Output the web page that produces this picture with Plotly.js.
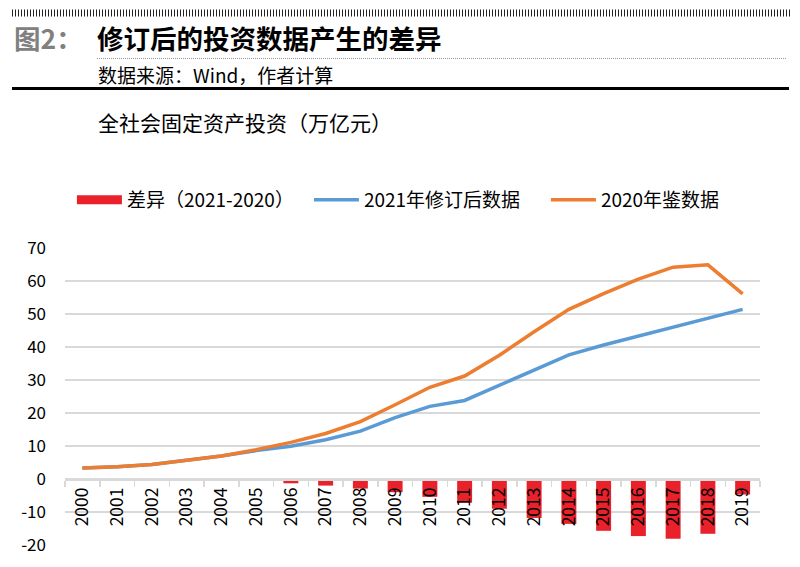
<!DOCTYPE html>
<html>
<head>
<meta charset="utf-8">
<script src="https://cdn.plot.ly/plotly-3.0.1.min.js"></script>
<style>
  html, body { margin: 0; padding: 0; background: #fff; }
  #chart { width: 800px; height: 567px; }
</style>
</head>
<body>
<div id="chart"></div>
<script>
// ---- data ----
const years = ['2000','2001','2002','2003','2004','2005','2006','2007','2008','2009',
               '2010','2011','2012','2013','2014','2015','2016','2017','2018','2019'];
const revised2021 = [3.3, 3.7, 4.4, 5.6, 7.0, 8.6, 9.9, 11.9, 14.5, 18.6,
                     22.0, 23.8, 28.4, 33.0, 37.6, 40.6, 43.3, 46.2, 48.9, 51.4];
const yearbook2020 = [3.3, 3.7, 4.4, 5.6, 7.0, 8.9, 11.1, 13.8, 17.4, 22.5,
                      27.8, 31.2, 37.5, 44.6, 51.4, 56.2, 60.6, 64.2, 64.9, 56.1];
const diff = [0, 0, 0, 0, 0, -0.3, -1.3, -2.0, -2.9, -4.0,
              -5.4, -7.2, -9.0, -11.8, -13.6, -15.7, -17.3, -18.1, -16.6, -4.7];

const nameDiff = '差异（2021-2020）';
const nameRev = '2021年修订后数据';
const nameOld = '2020年鉴数据';
const figTitleNo = '图2：';
const figTitle = '修订后的投资数据产生的差异';
const sourceText = '数据来源：Wind，作者计算';
const subTitle = '全社会固定资产投资（万亿元）';
const yTicks = [-20, -10, 0, 10, 20, 30, 40, 50, 60, 70];

// ---- layout geometry helpers (page pixels -> paper fractions) ----
const W = 800, H = 567;
const M = { l: 65, r: 40, t: 248, b: 22 };
const PW = W - M.l - M.r, PH = H - M.t - M.b;
const px = v => (v - M.l) / PW;
const py = v => (H - M.b - v) / PH;

const FONT = '"Noto Sans CJK SC", "Noto Sans", sans-serif';
const RED = '#e8212a', BLUE = '#5b9bd5', ORANGE = '#ed7d31', GRID = '#d9d9d9';

const traces = [
  { type: 'bar', x: years, y: diff, name: nameDiff, marker: { color: RED },
    width: 0.43, showlegend: false, legendgroup: 'd', hoverinfo: 'x+y' },
  { type: 'scatter', mode: 'lines', x: [null], y: [null], name: nameDiff,
    legendgroup: 'd', line: { color: RED, width: 9 }, hoverinfo: 'skip' },
  { type: 'scatter', mode: 'lines', x: years, y: revised2021, name: nameRev,
    line: { color: BLUE, width: 3.5 } },
  { type: 'scatter', mode: 'lines', x: years, y: yearbook2020, name: nameOld,
    line: { color: ORANGE, width: 3.5 } }
];

const layout = {
  width: W, height: H,
  margin: M,
  paper_bgcolor: '#fff', plot_bgcolor: '#fff',
  font: { family: FONT, color: '#000', size: 17 },
  showlegend: true,
  legend: {
    orientation: 'h', xref: 'paper', yref: 'paper',
    x: -0.0001, y: py(200), xanchor: 'left', yanchor: 'middle',
    indentation: 7,
    font: { size: 19, family: FONT, color: '#000' },
    itemwidth: 45, entrywidth: 170, entrywidthmode: 'pixels',
    bgcolor: 'rgba(0,0,0,0)', traceorder: 'normal'
  },
  xaxis: {
    type: 'category', range: [-0.5, 19.5], anchor: 'free', position: 20 / 90,
    showline: true, linecolor: GRID, linewidth: 1.5,
    ticks: 'outside', tickson: 'boundaries', ticklen: 6, tickwidth: 1.5, tickcolor: GRID,
    tickangle: -90, tickfont: { size: 17.5, family: FONT, color: '#000' },
    showgrid: false, zeroline: false, fixedrange: true
  },
  yaxis: {
    range: [-20, 70], tickvals: yTicks, ticktext: yTicks.map(String),
    showgrid: true, gridcolor: GRID, gridwidth: 1.5,
    zeroline: false, showline: false, ticks: '',
    ticklabelstandoff: 18,
    tickfont: { size: 17, family: FONT, color: '#000' }, fixedrange: true
  },
  shapes: [
    { type: 'line', xref: 'paper', yref: 'paper', x0: px(12), x1: px(790), y0: py(13), y1: py(13),
      line: { color: '#222', width: 7, dash: '1px,2px' } },
    { type: 'line', xref: 'paper', yref: 'paper', x0: px(97), x1: px(787), y0: py(58.5), y1: py(58.5),
      line: { color: '#999', width: 1, dash: '1px,1px' } },
    { type: 'line', xref: 'paper', yref: 'paper', x0: px(12), x1: px(789), y0: py(88.5), y1: py(88.5),
      line: { color: '#000', width: 3 } }
  ],
  annotations: [
    { xref: 'paper', yref: 'paper', x: px(12), y: py(37), xanchor: 'left', yanchor: 'middle',
      text: '<b>' + figTitleNo + '</b>', showarrow: false,
      font: { size: 26.5, family: FONT, color: '#808080' } },
    { xref: 'paper', yref: 'paper', x: px(95), y: py(37), xanchor: 'left', yanchor: 'middle',
      text: '<b>' + figTitle + '</b>', showarrow: false,
      font: { size: 26.5, family: FONT, color: '#000' } },
    { xref: 'paper', yref: 'paper', x: px(96), y: py(74), xanchor: 'left', yanchor: 'middle',
      text: sourceText, showarrow: false,
      font: { size: 19, family: FONT, color: '#000' } },
    { xref: 'paper', yref: 'paper', x: px(96), y: py(122), xanchor: 'left', yanchor: 'middle',
      text: subTitle, showarrow: false,
      font: { size: 21, family: FONT, color: '#000' } }
  ]
};

Plotly.newPlot('chart', traces, layout, { displayModeBar: false, staticPlot: true });
</script>
</body>
</html>
